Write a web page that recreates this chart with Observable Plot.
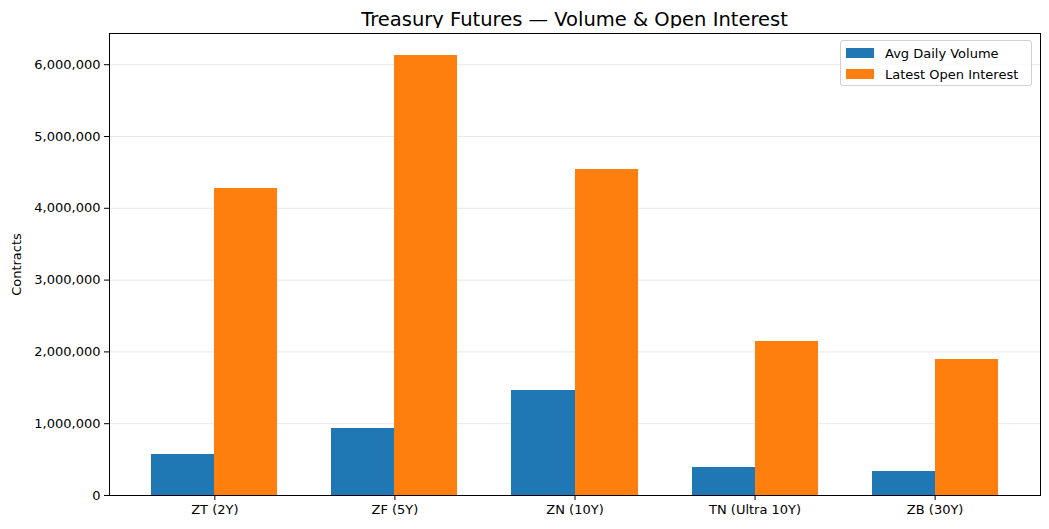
<!DOCTYPE html>
<html>
<head>
<meta charset="utf-8">
<script src="https://cdn.jsdelivr.net/npm/d3@7"></script>
<script src="https://cdn.jsdelivr.net/npm/@observablehq/plot@0.6"></script>
<style>
  body { margin: 0; background: #fff; font-family: "DejaVu Sans", sans-serif; }
  #wrap { position: relative; width: 1049px; height: 529px; }
  #title { position: absolute; left: 109px; width: 931px; top: 8px; text-align: center; font-size: 19.5px; color: #000; }
  #chart { position: absolute; left: 0; top: 28px; }
  #legend { position: absolute; left: 840px; top: 40px; width: 190px; height: 44px; border: 1px solid #d0d0d0; border-radius: 3px; background: rgba(255,255,255,0.8); font-size: 13px; }
  .item { position: absolute; left: 5px; height: 16px; display: flex; align-items: center; }
  .sw { width: 28px; height: 10px; margin-right: 11px; }
</style>
</head>
<body>
<div id="wrap">
  <div id="title">Treasury Futures — Volume &amp; Open Interest</div>
  <div id="chart"></div>
  <div id="legend"></div>
</div>
<script>
const categories = ["ZT (2Y)", "ZF (5Y)", "ZN (10Y)", "TN (Ultra 10Y)", "ZB (30Y)"];
const volume = [569000, 931000, 1460000, 390000, 334000];
const openInterest = [4276000, 6128000, 4540000, 2145000, 1894000];
const seriesNames = ["Avg Daily Volume", "Latest Open Interest"];
const seriesColors = ["#1f77b4", "#ff7f0e"];
const yTicks = [0, 1000000, 2000000, 3000000, 4000000, 5000000, 6000000];

const barWidth = 0.35;
const data = categories.flatMap((c, i) => [
  {i, s: 0, v: volume[i]},
  {i, s: 1, v: openInterest[i]}
]);
const xMin = -barWidth, xMax = categories.length - 1 + barWidth;
const xPad = (xMax - xMin) * 0.05;
const yMax = d3.max(data, d => d.v) * 1.05;

const chart = Plot.plot({
  width: 1049,
  height: 501,
  marginTop: 5,
  marginBottom: 34,
  marginLeft: 109,
  marginRight: 9,
  style: {fontFamily: "DejaVu Sans, sans-serif", fontSize: "13px", color: "#000", background: "#fff"},
  x: {domain: [xMin - xPad, xMax + xPad]},
  y: {domain: [0, yMax]},
  color: {domain: seriesNames, range: seriesColors},
  marks: [
    Plot.gridY(yTicks, {stroke: "#b0b0b0", strokeOpacity: 0.3, strokeWidth: 1}),
    Plot.rect(data, {
      x1: d => d.i + (d.s - 1) * barWidth,
      x2: d => d.i + d.s * barWidth,
      y1: 0,
      y2: "v",
      fill: d => seriesNames[d.s],
      shapeRendering: "crispEdges"
    }),
    Plot.axisX(categories.map((c, i) => i), {
      tickFormat: i => categories[i], tickSize: 5, tickPadding: 4, label: null, fontSize: 13
    }),
    Plot.axisY(yTicks, {
      tickFormat: d3.format(","), tickSize: 5, tickPadding: 4, label: "Contracts",
      labelAnchor: "center", labelOffset: 98, labelArrow: "none", fontSize: 13
    }),
    Plot.frame({stroke: "#000", strokeWidth: 1})
  ]
});
document.getElementById("chart").appendChild(chart);

const legend = d3.select("#legend");
seriesNames.forEach((name, k) => {
  const it = legend.append("div").attr("class", "item").style("top", (4 + k * 21) + "px");
  it.append("div").attr("class", "sw").style("background", seriesColors[k]);
  it.append("span").text(name);
});
</script>
</body>
</html>
